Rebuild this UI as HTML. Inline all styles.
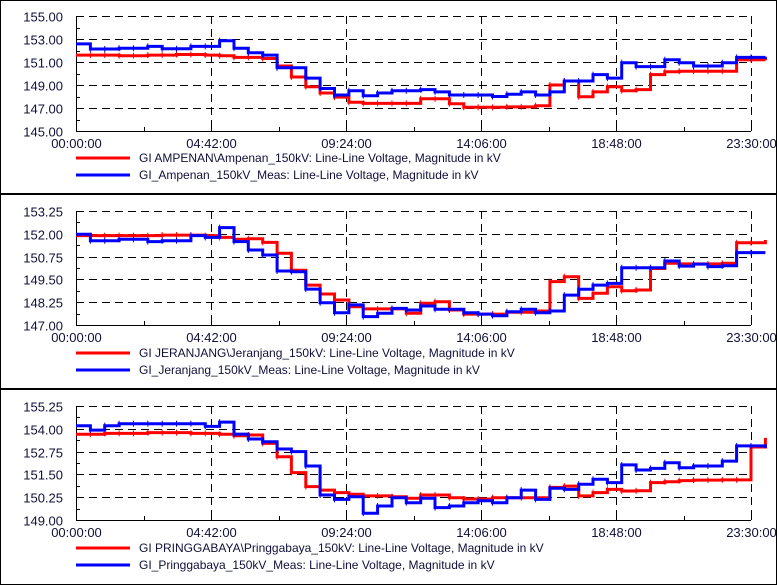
<!DOCTYPE html>
<html><head><meta charset="utf-8">
<style>
html,body{margin:0;padding:0;background:#fff;}
#wrap{position:relative;width:777px;height:585px;overflow:hidden;}
svg{position:absolute;left:0;top:0;}
text{font-family:"Liberation Sans",sans-serif;font-size:13px;fill:#10103a;}
.leg{font-size:12px;}
</style></head>
<body>
<div id="wrap">
<svg id="svg" width="777" height="585" viewBox="0 0 777 585"></svg>
</div>
<script>
// half-hour samples, 00:00 .. 23:30 (48 values) + final end value
const timeLabels = ["00:00:00","04:42:00","09:24:00","14:06:00","18:48:00","23:30:00"];
const p1Ticks = [155,153,151,149,147,145];
const p2Ticks = [153.25,152,150.75,149.5,148.25,147];
const p3Ticks = [155.25,154,152.75,151.5,150.25,149];

const p1Red = [151.6,151.6,151.6,151.55,151.55,151.6,151.6,151.65,151.65,151.6,151.55,151.4,151.4,151.3,150.65,149.7,148.85,148.3,147.95,147.5,147.4,147.4,147.4,147.4,147.8,147.8,147.37,147.06,147.06,147.06,147.1,147.1,147.2,149.0,149.35,147.98,148.4,148.85,148.5,148.6,149.9,150.16,150.2,150.2,150.2,150.2,151.2,151.2,151.15];
const p1Blue = [152.57,152.13,152.13,152.2,152.2,152.36,152.15,152.15,152.36,152.36,152.85,152.2,151.8,151.6,150.5,150.5,149.6,148.7,148.13,148.5,148.07,148.3,148.5,148.5,148.6,148.4,148.13,148.13,148.13,148.0,148.2,148.4,148.13,148.4,149.35,149.35,149.9,149.6,150.94,150.6,150.6,151.2,150.94,150.65,150.65,150.94,151.4,151.4,151.45];
const p2Red = [151.9,151.9,151.9,151.9,151.9,151.9,151.93,151.93,151.93,151.9,151.8,151.7,151.73,151.53,150.93,150.0,149.19,148.7,148.37,148.0,147.88,147.88,147.88,147.64,148.19,148.28,147.82,147.6,147.6,147.6,147.7,147.7,147.77,149.38,149.65,148.46,148.74,149.1,148.88,148.92,150.1,150.38,150.35,150.35,150.35,150.38,151.51,151.51,151.66];
const p2Blue = [151.97,151.62,151.62,151.7,151.7,151.57,151.62,151.62,151.9,151.8,152.34,151.57,151.11,150.84,149.96,149.92,148.97,148.22,147.67,148.1,147.46,147.64,147.91,147.82,148.04,147.86,147.86,147.67,147.6,147.51,147.73,147.86,147.67,147.77,148.64,148.96,149.19,149.28,150.14,150.14,150.14,150.51,150.23,150.34,150.2,150.25,150.97,150.97,150.97];
const p3Red = [153.7,153.7,153.75,153.75,153.75,153.79,153.79,153.79,153.75,153.75,153.7,153.62,153.66,153.2,152.47,151.6,150.83,150.64,150.5,150.41,150.32,150.32,150.28,150.19,150.37,150.37,150.22,150.15,150.15,150.22,150.22,150.22,150.22,150.79,150.86,150.32,150.5,150.68,150.59,150.6,151.05,151.1,151.16,151.19,151.19,151.2,151.2,153.0,153.5];
const p3Blue = [154.17,153.93,154.17,154.28,154.28,154.28,154.28,154.28,154.28,154.13,154.37,153.71,153.44,153.29,152.89,152.75,151.96,150.37,150.13,150.28,149.37,149.77,150.22,149.95,150.19,149.68,149.77,149.95,150.06,149.95,150.22,150.64,150.13,150.74,150.68,150.96,151.23,151.05,152.02,151.74,151.83,152.14,151.87,151.96,151.96,152.23,153.06,153.06,152.95];

const legends = [
  ["GI AMPENAN\\Ampenan_150kV: Line-Line Voltage, Magnitude in kV","GI_Ampenan_150kV_Meas: Line-Line Voltage, Magnitude in kV"],
  ["GI JERANJANG\\Jeranjang_150kV: Line-Line Voltage, Magnitude in kV","GI_Jeranjang_150kV_Meas: Line-Line Voltage, Magnitude in kV"],
  ["GI PRINGGABAYA\\Pringgabaya_150kV: Line-Line Voltage, Magnitude in kV","GI_Pringgabaya_150kV_Meas: Line-Line Voltage, Magnitude in kV"]
];

const NS="http://www.w3.org/2000/svg";
const svg=document.getElementById('svg');
function mk(tag,attrs,parent){const e=document.createElementNS(NS,tag);for(const k in attrs)e.setAttribute(k,attrs[k]);(parent||svg).appendChild(e);return e;}

const X0=76,X1=751,HOURS=23.5;
function xs(h){return X0+(h/HOURS)*(X1-X0);}

function panel(idx,top,bot,ticks,red,blue,legY){
  const g=mk('g',{});
  
  
  const ymax=ticks[0],ymin=ticks[ticks.length-1];
  const ys=v=>top+(ymax-v)/(ymax-ymin)*(bot-top);
  ticks.forEach((t,i)=>{
    const y=Math.round(ys(t))+0.5;
    if(i<ticks.length-1){
      const l=mk('line',{x1:X0,x2:X1,y1:y,y2:y,stroke:'#000','stroke-width':1,'stroke-dasharray':'8,5'},g);
      
      
    }
    const tx=mk('text',{x:63,y:y+5,'text-anchor':'end'},g);
    tx.textContent=t.toFixed(2);
    
    
    mk('line',{x1:X0,x2:X0+5,y1:y,y2:y,stroke:'#000'},g);
    if(i<ticks.length-1){
      const ym=Math.round(ys((t+ticks[i+1])/2))+0.5;
      mk('line',{x1:X0,x2:X0+4,y1:ym,y2:ym,stroke:'#000'},g);
    }
  });
  timeLabels.forEach((lab,i)=>{
    const h=i*4.7;
    const x=Math.round(xs(h))+0.5;
    if(i>0){
      const l=mk('line',{x1:x,x2:x,y1:top,y2:bot,stroke:'#000','stroke-width':1,'stroke-dasharray':'8,5'},g);
      
      
    }
    const tx=mk('text',{x:x,y:bot+17,'text-anchor':'middle'},g);
    tx.textContent=lab;
    
    
    mk('line',{x1:x,x2:x,y1:bot,y2:bot-5,stroke:'#000'},g);
    if(i<timeLabels.length-1){
      const xm=Math.round(xs(h+2.35))+0.5;
      mk('line',{x1:xm,x2:xm,y1:bot,y2:bot-4,stroke:'#000'},g);
    }
  });
  const ax=mk('path',{d:`M${X0+0.5},${top} V${bot+0.5} H${X1}`,stroke:'#000',fill:'none'},g);
  
  
  function series(vals,color,name){
    let d='';
    for(let i=0;i<48;i++){
      const x0=xs(i*0.5),x1=xs((i+1)*0.5),y=ys(vals[i]);
      d+=(i===0?'M':'L')+x0.toFixed(1)+','+y.toFixed(1)+' H'+x1.toFixed(1)+' ';
    }
    d+='V'+ys(vals[48]).toFixed(1);
    const p=mk('path',{d:d,stroke:color,'stroke-width':3,fill:'none'},g);
    
    
    for(let i=1;i<48;i++){
      const x=xs(i*0.5),y=ys(vals[i]);
      mk('line',{x1:x,x2:x,y1:y-3,y2:y+3,stroke:color,'stroke-width':1},g);
    }
  }
  series(red,'#ff0000','simulated-voltage-line');
  series(blue,'#0000ff','measured-voltage-line');
  [[legends[idx][0],'#ff0000',legY],[legends[idx][1],'#0000ff',legY+17]].forEach((L,k)=>{
    const lg=mk('g',{},g);
    
    
    mk('line',{x1:76,x2:130,y1:L[2],y2:L[2],stroke:L[1],'stroke-width':3},lg);
    const t=mk('text',{x:139,y:L[2]+4,class:'leg'},lg);
    t.textContent=L[0];
  });
}
panel(0,16,131,p1Ticks,p1Red,p1Blue,158);
panel(1,211,325,p2Ticks,p2Red,p2Blue,353);
panel(2,406,520,p3Ticks,p3Red,p3Blue,548);
const b=mk('rect',{x:0.5,y:0.5,width:776,height:584,fill:'none',stroke:'#000','stroke-width':1});


[194,389].forEach(y=>{
  const s=mk('line',{x1:0,x2:777,y1:y,y2:y,stroke:'#000','stroke-width':2});
  
  
});
</script>
</body></html>
